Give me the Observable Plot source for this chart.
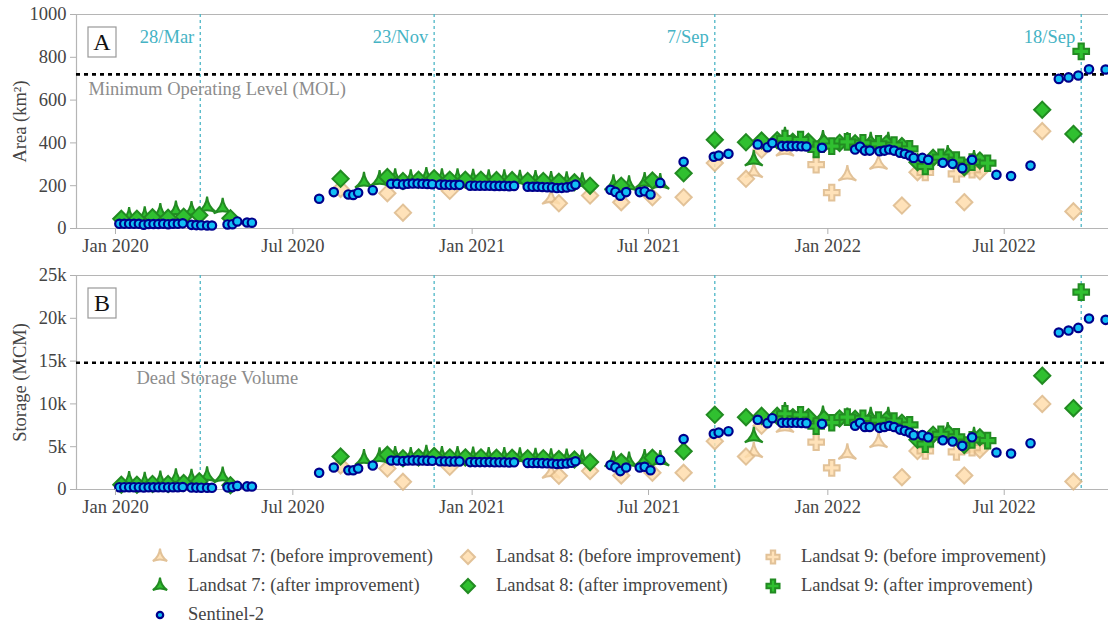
<!DOCTYPE html>
<html><head><meta charset="utf-8">
<script src="https://cdn.jsdelivr.net/npm/d3@7"></script>
<script src="https://cdn.jsdelivr.net/npm/@observablehq/plot@0.6"></script>
<style>
body{margin:0;background:#fff;font-family:"Liberation Serif","Tinos","Times New Roman","DejaVu Serif",serif;}
#wrap{width:1108px;position:relative;overflow:hidden;}
#wrap svg{display:block;overflow:visible;}
#wrap svg, #wrap svg text{font-family:"Liberation Serif","Tinos","Times New Roman","DejaVu Serif",serif !important;}
g[aria-label="x-axis tick"], g[aria-label="y-axis tick"]{stroke:#b0b0b0;}
#legend{display:grid;grid-template-columns:308px 305px 300px;padding-left:150px;padding-top:24px;font-size:18.5px;color:#444;}
.item{display:flex;align-items:center;height:29px;white-space:nowrap;}
.item svg{width:20px;height:20px;margin-right:18px;flex:none;}
</style></head><body><div id="wrap"><div id="charts"></div><div id="legend"></div></div><script>
// ---------- axis / annotation values ----------
const xDomain = ["2019-11-22", "2022-10-16"];
const xTicks = ["2020-01-01", "2020-07-01", "2021-01-01", "2021-07-01", "2022-01-01", "2022-07-01"];
const eventDates = ["2020-03-28", "2020-11-23", "2021-09-07", "2022-09-18"];
const eventLabels = ["28/Mar", "23/Nov", "7/Sep", "18/Sep"];
const areaTicks = [0, 200, 400, 600, 800, 1000];
const storageTicks = [0, 5000, 10000, 15000, 20000, 25000];
const molArea = 720;
const deadStorage = 14800;

// ---------- Sentinel-2 ----------
const s2Dates = ["2020-01-05","2020-01-10","2020-01-15","2020-01-20","2020-01-25","2020-01-30","2020-02-04","2020-02-09","2020-02-14","2020-02-19","2020-02-24","2020-02-29","2020-03-05","2020-03-10","2020-03-19","2020-03-24","2020-03-29","2020-04-04","2020-04-09","2020-04-25","2020-04-30","2020-05-05","2020-05-15","2020-05-20",
"2020-07-28","2020-08-12","2020-08-27","2020-09-01","2020-09-06","2020-09-21","2020-10-10","2020-10-16","2020-10-22","2020-10-27","2020-11-01","2020-11-06","2020-11-11","2020-11-16","2020-11-21","2020-11-29","2020-12-04","2020-12-09","2020-12-14","2020-12-19","2020-12-30",
"2021-01-04","2021-01-09","2021-01-14","2021-01-19","2021-01-24","2021-01-29","2021-02-03","2021-02-08","2021-02-13","2021-02-27","2021-03-04","2021-03-09","2021-03-14","2021-03-19","2021-03-24","2021-03-29","2021-04-03","2021-04-08","2021-04-13","2021-04-17","2021-05-23","2021-05-28","2021-06-02","2021-06-08","2021-06-22","2021-06-27","2021-07-03","2021-07-13","2021-08-06","2021-09-06","2021-09-11","2021-09-21","2021-10-21","2021-10-31","2021-11-05","2021-11-15","2021-11-20","2021-11-25","2021-11-30","2021-12-05","2021-12-10","2021-12-26",
"2022-01-29","2022-02-03","2022-02-08","2022-02-13","2022-02-23","2022-02-28","2022-03-05","2022-03-10","2022-03-16","2022-03-21","2022-03-26","2022-03-30","2022-04-08","2022-04-14","2022-04-29","2022-05-09","2022-05-19","2022-05-29","2022-06-23","2022-07-08","2022-07-28","2022-08-26","2022-09-05","2022-09-15","2022-09-26","2022-10-13"];
const s2Area = [22,22,22,22,22,18,21,21,21,22,20,22,22,24,17,16,15,14,14,19,20,33,28,27,
139,170,159,157,167,179,209,209,206,209,210,210,209,208,207,205,205,204,204,204,200,
200,200,200,200,199,199,199,198,199,195,195,195,194,193,192,189,190,192,196,205,181,171,153,170,170,174,159,213,312,335,341,349,393,380,399,385,385,385,385,384,383,377,
369,383,364,364,361,364,369,364,354,349,341,330,330,321,307,302,282,321,251,245,294,699,706,715,744,743];
const s2Storage = [270,270,270,270,270,240,260,260,260,270,250,270,270,290,230,220,210,200,200,250,280,420,360,350,
1950,2570,2250,2250,2450,2800,3390,3390,3330,3390,3400,3400,3380,3370,3350,3300,3300,3280,3280,3280,3200,
3200,3200,3200,3200,3180,3180,3180,3150,3180,3100,3100,3100,3080,3060,3040,2980,3000,3040,3120,3300,2850,2600,2150,2570,2570,2650,2250,3450,5900,6500,6650,6810,8140,7750,8330,7790,7790,7790,7790,7770,7750,7670,
7450,7800,7300,7300,7200,7300,7450,7300,7000,6850,6650,6350,6350,6100,5750,5600,5100,6100,4320,4200,5410,18340,18570,18880,19970,19820];

// ---------- Landsat 7 ----------
const l7BeforeDates = ["2021-03-23","2021-10-17","2021-11-18","2022-01-21","2022-02-22","2022-05-31"];
const l7BeforeArea = [139,263,364,248,302,275];
const l7BeforeStorage = [1950,4360,7300,4170,5530,4800];
const l7AfterDates = ["2020-01-15","2020-01-31","2020-02-16","2020-03-03","2020-03-19","2020-04-04","2020-04-20",
"2020-09-12","2020-09-28","2020-10-14","2020-10-30","2020-11-15","2020-12-01","2020-12-17","2021-01-02","2021-01-18","2021-02-03","2021-02-19","2021-03-07","2021-03-23","2021-04-08","2021-04-24","2021-05-26","2021-06-11","2021-06-27","2021-07-13",
"2021-10-17","2021-11-18","2021-12-27","2022-01-21","2022-02-14","2022-03-04","2022-05-04","2022-05-31"];
const l7AfterArea = [52,55,70,82,80,100,95,
216,224,232,228,238,232,232,230,228,228,226,224,220,218,214,205,200,215,210,
318,427,411,402,403,403,341,318];
const l7AfterStorage = [950,850,1000,1250,1200,1500,1450,
3500,3700,3850,3750,4000,3850,3850,3800,3750,3750,3700,3650,3600,3550,3450,3300,3200,3500,3400,
6110,9000,8600,8350,8450,8450,6650,6100];

// ---------- Landsat 8 ----------
const l8BeforeDates = ["2020-08-19","2020-10-06","2020-10-22","2020-12-09","2021-03-31","2021-05-02","2021-06-03","2021-07-05","2021-08-06","2021-09-07","2021-10-09","2021-10-25","2022-03-18","2022-04-03","2022-05-21","2022-06-06","2022-08-09","2022-09-10"];
const l8BeforeArea = [185,165,74,176,118,154,123,146,146,306,232,368,107,263,123,268,455,80];
const l8BeforeStorage = [2800,2450,900,2650,1600,2150,1640,1950,1950,5640,3850,7450,1440,4500,1640,4650,10000,930];
const l8AfterDates = ["2020-01-07","2020-01-23","2020-02-08","2020-02-24","2020-03-11","2020-03-27","2020-04-28",
"2020-08-19","2020-10-06","2020-10-22","2020-11-07","2020-11-23","2020-12-09","2020-12-25","2021-01-10","2021-01-26","2021-02-11","2021-02-27","2021-03-15","2021-03-31","2021-04-16","2021-05-02","2021-06-03","2021-07-05","2021-08-06","2021-09-07",
"2021-10-09","2021-10-25","2021-11-10","2021-11-26","2021-12-12","2021-12-28","2022-01-13","2022-01-29","2022-02-14","2022-03-02","2022-03-18","2022-04-03","2022-04-19","2022-05-05","2022-05-21","2022-06-06","2022-08-09","2022-09-10"];
const l8AfterArea = [45,45,52,50,55,62,48,
232,240,222,228,235,228,228,228,226,226,222,222,218,216,200,200,224,258,415,
403,411,412,405,405,398,400,398,392,395,385,310,330,335,286,318,555,442];
const l8AfterStorage = [550,550,650,650,750,950,500,
3850,4050,3650,3750,3900,3750,3750,3750,3700,3700,3650,3650,3550,3500,3200,3200,3700,4470,8720,
8450,8600,8600,8450,8450,8250,8300,8250,8050,8100,7800,5800,6400,6500,5200,6100,13300,9500];

// ---------- Landsat 9 ----------
const l9BeforeDates = ["2021-12-20","2022-01-05","2022-04-11","2022-05-13","2022-05-29"];
const l9BeforeArea = [298,168,262,255,275];
const l9BeforeStorage = [5530,2530,4500,4400,4900];
const l9AfterDates = ["2021-11-18","2021-12-04","2021-12-20","2022-01-05","2022-01-21","2022-02-06","2022-02-22","2022-03-10","2022-03-26","2022-04-11","2022-04-27","2022-05-13","2022-05-29","2022-06-14","2022-09-18"];
const l9AfterArea = [420,415,370,385,405,400,395,390,372,290,333,320,310,305,828];
const l9AfterStorage = [8850,8720,7400,7800,8450,8300,8100,8000,7550,5300,6450,6150,5800,5700,23050];

// ---------- styles ----------
const serif = '"Liberation Serif", "Tinos", "Times New Roman", "DejaVu Serif", serif';
const FS = 18.5;
const starTriangle = {
  draw(ctx, size) {
    const r = Math.sqrt(size / Math.PI);
    const x = r * Math.sqrt(3) * 0.8, y1 = r * 0.8, y2 = r * 1.6, f = 0.2;
    ctx.moveTo(-x, y1);
    ctx.quadraticCurveTo(0, y1 * f, x, y1);
    ctx.quadraticCurveTo(f * x / 2, f * (y1 - y2) / 2, 0, -y2);
    ctx.quadraticCurveTo(-f * x / 2, f * (y1 - y2) / 2, -x, y1);
    ctx.closePath();
  }
};
const beforeStyle = {fill: "#ffdead", stroke: "#deb887", strokeWidth: 2, opacity: 0.85};
const afterStyle = {fill: "#30c030", stroke: "#228b22", strokeWidth: 2};
const series = [
  {name: "Landsat 7: (before improvement)", dates: l7BeforeDates, area: l7BeforeArea, storage: l7BeforeStorage, symbol: starTriangle, r: 6.5, style: beforeStyle},
  {name: "Landsat 8: (before improvement)", dates: l8BeforeDates, area: l8BeforeArea, storage: l8BeforeStorage, symbol: "diamond2", r: 7.3, style: beforeStyle},
  {name: "Landsat 9: (before improvement)", dates: l9BeforeDates, area: l9BeforeArea, storage: l9BeforeStorage, symbol: "cross", r: 6.6, style: beforeStyle},
  {name: "Landsat 7: (after improvement)", dates: l7AfterDates, area: l7AfterArea, storage: l7AfterStorage, symbol: starTriangle, r: 6.5, style: afterStyle},
  {name: "Landsat 8: (after improvement)", dates: l8AfterDates, area: l8AfterArea, storage: l8AfterStorage, symbol: "diamond2", r: 7.3, style: afterStyle},
  {name: "Landsat 9: (after improvement)", dates: l9AfterDates, area: l9AfterArea, storage: l9AfterStorage, symbol: "cross", r: 6.6, style: afterStyle},
  {name: "Sentinel-2", dates: s2Dates, area: s2Area, storage: s2Storage, symbol: "circle", r: 4.2, style: {fill: "#12bff5", stroke: "#00008b", strokeWidth: 2.2}}
];
const toDate = s => new Date(s + "T00:00:00Z");

function panel({key, yTicks, yFmt, yLabel, refVal, refLabel, refDx, letter, showLabels, height, mt, mb}) {
  const yDomain = [yTicks[0], yTicks[yTicks.length - 1]];
  const xd = xDomain.map(toDate);
  const marks = [
    Plot.ruleY([yDomain[0], yDomain[1]], {stroke: "#b5b5b5", strokeWidth: 1.2}),
    Plot.ruleX([xd[0]], {stroke: "#b5b5b5", strokeWidth: 1.2}),
    Plot.ruleX(eventDates.map(toDate), {stroke: "#4db6c6", strokeWidth: 1.3, strokeDasharray: "3,3"}),
    Plot.ruleY([refVal], {stroke: "#000", strokeWidth: 2.6, strokeDasharray: "4,4"}),
    Plot.text([refLabel], {y: () => refVal, text: d => d, frameAnchor: "left", textAnchor: "start", dx: refDx, dy: 15, fill: "#8c8c8c", fontSize: FS})
  ];
  if (showLabels) {
    marks.push(Plot.text(eventDates.map((d, i) => ({d: toDate(d), t: eventLabels[i]})), {x: "d", text: "t", frameAnchor: "top", textAnchor: "end", dx: -6, dy: 15, fill: "#45b3c4", fontSize: FS}));
  }
  for (const s of series) {
    const rows = s.dates.map((d, i) => ({date: toDate(d), v: s[key][i]}));
    marks.push(Plot.dot(rows, {x: "date", y: "v", symbol: s.symbol, r: s.r, ...s.style}));
  }
  marks.push(
    Plot.axisY({ticks: yTicks, tickFormat: yFmt, tickSize: 6, tickPadding: 4, fontSize: FS, label: null}),
    Plot.axisX({ticks: xTicks.map(toDate), tickFormat: d3.utcFormat("%b %Y"), tickSize: 6, tickPadding: 4, fontSize: FS, label: null}),
    Plot.text([yLabel], {text: d => d, frameAnchor: "left", rotate: -90, dx: -56, fill: "#444", fontSize: FS, textAnchor: "middle"})
  );
  const chart = Plot.plot({
    width: 1108, height, marginLeft: 76, marginRight: 0, marginTop: mt, marginBottom: mb,
    style: {fontFamily: serif, color: "#444", background: "transparent", overflow: "visible"},
    x: {type: "utc", domain: xd},
    y: {domain: yDomain},
    marks
  });
  const svg = d3.select(chart);
  const g = svg.append("g");
  g.append("rect").attr("x", 76 + 12).attr("y", mt + 13).attr("width", 28).attr("height", 30)
    .attr("fill", "#fff").attr("stroke", "#999").attr("stroke-width", 1.2);
  g.append("text").attr("x", 76 + 26).attr("y", mt + 28).attr("dy", "0.35em").attr("text-anchor", "middle")
    .attr("font-size", 24).attr("fill", "#111").text(letter);
  return chart;
}

const charts = document.getElementById("charts");
charts.appendChild(panel({key: "area", yTicks: areaTicks, yFmt: d => String(d), yLabel: "Area (km²)", refVal: molArea,
  refLabel: "Minimum Operating Level (MOL)", refDx: 12, letter: "A", showLabels: true, height: 256, mt: 14, mb: 28}));
charts.appendChild(panel({key: "storage", yTicks: storageTicks, yFmt: d => d === 0 ? "0" : (d / 1000) + "k", yLabel: "Storage (MCM)", refVal: deadStorage,
  refLabel: "Dead Storage Volume", refDx: 60, letter: "B", showLabels: false, height: 262, mt: 19, mb: 29}));

// ---------- legend ----------
const legendOrder = [0, 1, 2, 3, 4, 5, 6];
const legendR = {0: 5.2, 1: 6.3, 2: 5.5, 3: 5.2, 4: 6.3, 5: 5.5, 6: 3.2};
const symMap = {circle: d3.symbolCircle, diamond2: d3.symbolDiamond2, cross: d3.symbolCross};
const legend = d3.select("#legend");
for (const i of legendOrder) {
  const s = series[i];
  const item = legend.append("div").attr("class", "item");
  const sv = item.append("svg").attr("viewBox", "-10 -10 20 20");
  const type = typeof s.symbol === "string" ? symMap[s.symbol] : s.symbol;
  const r = legendR[i];
  sv.append("path").attr("d", d3.symbol(type, Math.PI * r * r)())
    .attr("fill", s.style.fill).attr("stroke", s.style.stroke).attr("stroke-width", s.style.strokeWidth)
    .attr("opacity", s.style.opacity ?? 1);
  item.append("span").text(s.name);
}
</script></body></html>
